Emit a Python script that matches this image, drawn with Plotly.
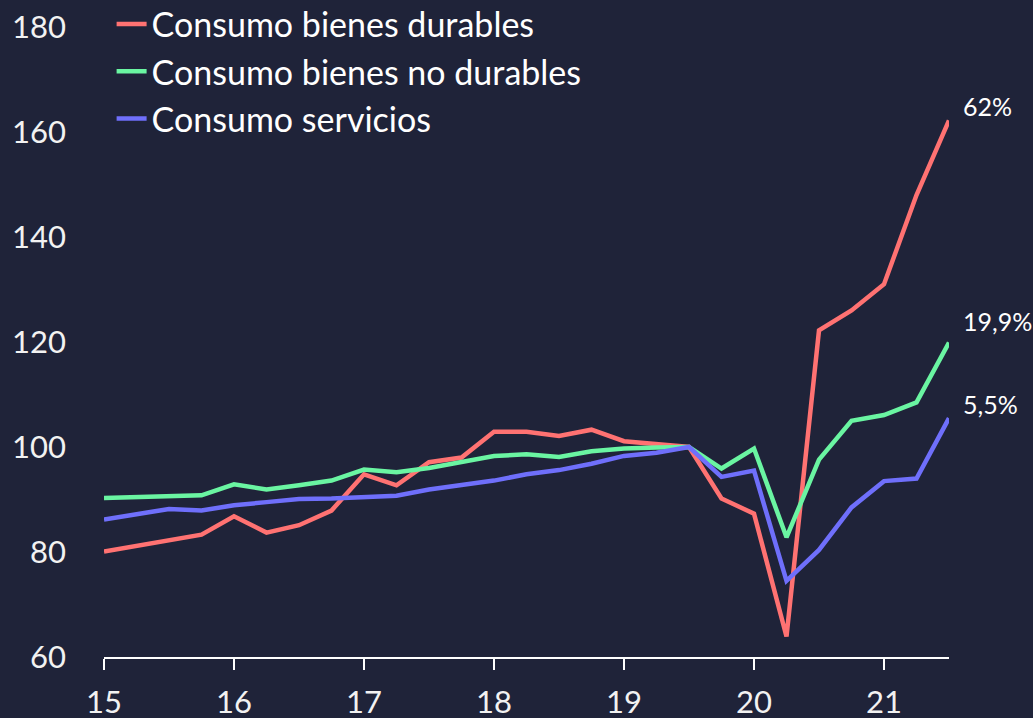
import plotly.graph_objects as go

# Quarterly positions: year (2-digit) + (quarter-1)/4, 2015Q1 .. 2021Q3
x_vals = [15 + i * 0.25 for i in range(27)]

durables = [80.1, 81.2, 82.2, 83.3, 86.8, 83.7, 85.1, 87.9, 94.8, 92.7, 97.1, 98.0,
            102.9, 102.9, 102.1, 103.3, 101.1, 100.5, 100.0, 90.2, 87.3, 63.9,
            122.2, 126.0, 131.0, 148.0, 162.2]
non_durables = [90.3, 90.4, 90.6, 90.8, 92.9, 91.9, 92.7, 93.6, 95.7, 95.2, 96.0, 97.1,
                98.3, 98.6, 98.1, 99.2, 99.7, 99.9, 100.0, 95.9, 99.7, 82.8,
                97.6, 105.0, 106.1, 108.5, 119.9]
services = [86.2, 87.2, 88.2, 87.9, 88.9, 89.5, 90.1, 90.2, 90.5, 90.7, 91.9, 92.7,
            93.6, 94.8, 95.6, 96.8, 98.3, 98.9, 100.0, 94.3, 95.5, 74.5,
            80.4, 88.5, 93.5, 94.0, 105.5]

series_names = ["Consumo bienes durables", "Consumo bienes no durables", "Consumo servicios"]
end_labels = ["62%", "19,9%", "5,5%"]
x_ticks = [15, 16, 17, 18, 19, 20, 21]
y_ticks = [60, 80, 100, 120, 140, 160, 180]

colors = ["#ff7272", "#6af5a2", "#6f6ffb"]
label_shifts = [14, 22, 14]
BG = "#1f2339"
FONT = "Lato, Carlito, Calibri, sans-serif"

fig = go.Figure()
for name, vals, col in zip(series_names, [durables, non_durables, services], colors):
    fig.add_trace(go.Scatter(x=x_vals, y=vals, mode="lines", name=name,
                             line=dict(color=col, width=4.5), cliponaxis=False))

for vals, lab, sh in zip([durables, non_durables, services], end_labels, label_shifts):
    fig.add_annotation(x=x_vals[-1], y=vals[-1], text=lab, showarrow=False,
                       xanchor="left", yanchor="middle", xshift=12, yshift=sh,
                       font=dict(family=FONT, size=25, color="#ffffff"))

fig.update_layout(
    width=1033, height=718,
    paper_bgcolor=BG, plot_bgcolor=BG,
    margin=dict(l=104, r=84, t=27, b=61, autoexpand=False),
    font=dict(family=FONT, color="#f2f2f2", size=31),
    showlegend=True,
    legend=dict(x=0.009, y=1.05, xanchor="left", yanchor="top",
                bgcolor="rgba(0,0,0,0)", font=dict(size=34, color="#ffffff"),
                tracegroupgap=0, itemwidth=30),
    xaxis=dict(range=[15, 21.5], tickvals=x_ticks, ticktext=[str(t) for t in x_ticks],
               showgrid=False, zeroline=False, showline=True, linecolor="#ffffff",
               linewidth=2, ticks="outside", tickcolor="#ffffff", ticklen=11, tickwidth=2,
               ticklabelstandoff=6, tickfont=dict(size=31, color="#f2f2f2")),
    yaxis=dict(range=[60, 180], tickvals=y_ticks, showgrid=False, zeroline=False,
               showline=False, ticks="", ticklabelstandoff=37,
               tickfont=dict(size=31, color="#f2f2f2")),
)

fig.write_html("out.html", config={"displayModeBar": False},
               post_script="document.body.style.margin='0';document.body.style.overflow='hidden';")
